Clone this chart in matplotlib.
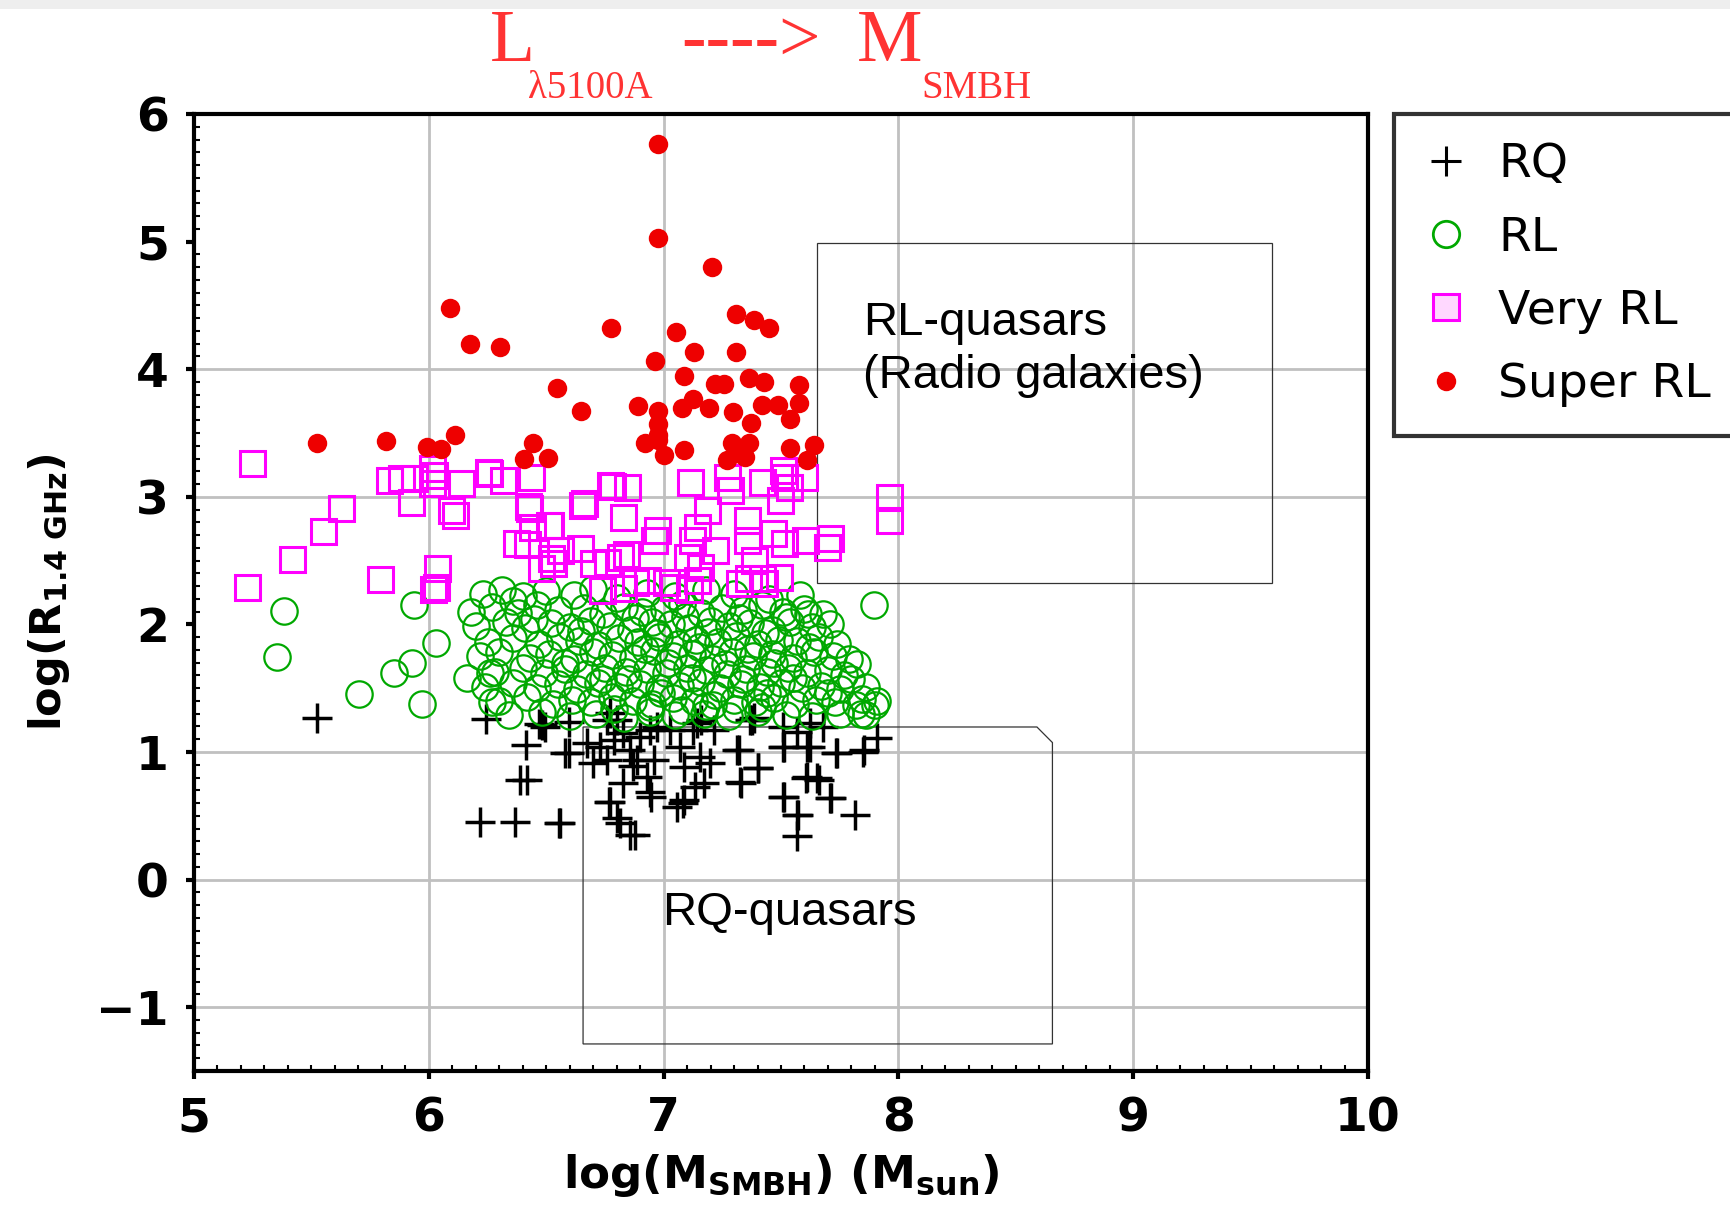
import matplotlib.pyplot as plt
from matplotlib.lines import Line2D
from matplotlib.patches import Rectangle, Polygon
from matplotlib.ticker import MultipleLocator

# --- data: log(M_SMBH) vs log(R_1.4GHz) ---
rq_x = [5.522, 6.245, 6.481, 6.416, 6.595, 6.390, 6.420, 6.220, 6.366, 6.554,
        6.766, 6.815, 6.856, 6.946, 7.084, 7.133, 7.312, 7.328, 7.401, 7.507,
        7.573, 7.507, 7.622, 7.736, 7.850, 7.907, 7.817, 7.606, 7.655, 7.712,
        7.507, 7.570, 7.377, 6.495, 6.595, 6.580, 6.559, 6.772, 6.673, 6.701,
        6.730, 6.787, 6.829, 6.858, 6.900, 6.886, 6.943, 6.957, 6.829, 6.929,
        6.943, 6.772, 6.801, 6.879, 7.071, 7.127, 7.156, 7.085, 7.199, 7.170,
        7.085, 7.056, 7.319, 7.404, 7.326, 7.213, 7.383, 7.511, 7.567, 7.567,
        7.511, 7.610, 7.610, 7.660, 7.710, 7.738, 7.852, 6.757, 6.800, 6.971,
        7.028, 7.141, 7.160, 7.369, 7.625, 7.681, 6.870, 6.760, 6.470]
rq_y = [1.264, 1.256, 1.211, 1.055, 0.990, 0.781, 0.781, 0.454, 0.454, 0.441,
        0.611, 0.441, 0.350, 0.650, 0.598, 0.728, 1.016, 0.754, 0.872, 0.650,
        0.507, 1.042, 1.042, 0.990, 1.003, 1.107, 0.507, 0.794, 0.794, 0.637,
        1.199, 1.160, 1.250, 1.199, 1.238, 0.990, 0.446, 1.304, 1.069, 0.911,
        1.042, 1.094, 1.146, 1.016, 1.120, 0.937, 1.172, 0.937, 0.754, 0.807,
        0.690, 0.611, 0.480, 0.350, 1.042, 1.172, 0.963, 0.885, 0.911, 0.754,
        0.624, 0.572, 1.016, 0.872, 0.768, 1.172, 1.264, 0.650, 0.507, 0.340,
        1.042, 1.042, 0.807, 0.781, 0.637, 0.990, 1.016, 1.251, 1.250, 1.199,
        1.172, 1.225, 1.250, 1.251, 1.225, 1.199, 0.890, 0.940, 1.220]

rl_x = [5.383, 5.352, 5.703, 5.973, 5.937, 6.030, 5.930, 5.852, 6.162, 6.270,
        7.897, 7.822, 7.900, 7.843, 7.615,
        6.23, 6.31, 6.40, 6.50, 6.62, 6.70, 6.80, 6.93, 7.05, 7.18, 7.30, 7.45, 7.58,
        6.18, 6.27, 6.38, 6.46, 6.55, 6.66, 6.74, 6.83, 6.91, 7.00, 7.08, 7.16,
        7.25, 7.34, 7.42, 7.51, 7.60, 7.68,
        6.20, 6.33, 6.41, 6.52, 6.60, 6.69, 6.77, 6.86, 6.95, 7.03, 7.11, 7.20,
        7.28, 7.37, 7.46, 7.54, 7.63, 7.71,
        6.25, 6.36, 6.47, 6.56, 6.64, 6.72, 6.81, 6.89, 6.98, 7.06, 7.14, 7.23,
        7.31, 7.40, 7.49, 7.57, 7.66, 7.74,
        6.22, 6.30, 6.43, 6.51, 6.62, 6.70, 6.78, 6.87, 6.96, 7.04, 7.12, 7.21,
        7.29, 7.38, 7.46, 7.55, 7.64, 7.72, 7.79,
        6.28, 6.40, 6.49, 6.58, 6.67, 6.75, 6.84, 6.93, 7.01, 7.10, 7.18, 7.27,
        7.35, 7.44, 7.53, 7.61, 7.70, 7.77,
        6.24, 6.36, 6.46, 6.55, 6.63, 6.72, 6.81, 6.90, 6.98, 7.07, 7.16, 7.24,
        7.33, 7.41, 7.50, 7.59, 7.67, 7.75, 7.86,
        6.30, 6.42, 6.53, 6.61, 6.69, 6.78, 6.87, 6.95, 7.04, 7.13, 7.21, 7.30,
        7.39, 7.47, 7.56, 7.65, 7.73, 7.82, 7.91,
        6.34, 6.48, 6.60, 6.71, 6.83, 6.94, 7.05, 7.17, 7.28, 7.40, 7.52, 7.63,
        7.75, 7.86,
        6.88, 6.97, 7.09, 7.19, 7.32, 7.43, 7.52, 6.92, 7.02, 7.15, 7.26, 7.36,
        7.47, 6.85, 6.99, 7.12, 7.22, 7.34, 7.44, 7.55, 6.79, 6.94, 7.08, 7.18,
        7.31, 7.42, 6.65, 6.74, 6.58, 6.45, 7.62, 7.70, 7.80, 7.84, 6.36, 6.26]
rl_y = [2.108, 1.747, 1.452, 1.373, 2.152, 1.852, 1.695, 1.617, 1.578, 1.390,
        2.155, 1.691, 1.367, 1.413, 2.083,
        2.24, 2.27, 2.22, 2.26, 2.23, 2.28, 2.21, 2.25, 2.22, 2.27, 2.24, 2.20, 2.23,
        2.10, 2.14, 2.09, 2.15, 2.11, 2.13, 2.08, 2.14, 2.10, 2.12, 2.16, 2.09,
        2.13, 2.11, 2.15, 2.10, 2.12, 2.08,
        1.99, 2.02, 1.97, 2.01, 1.98, 2.03, 1.99, 1.96, 2.02, 2.00, 1.97, 2.03,
        1.99, 2.01, 1.96, 2.02, 1.98, 2.00,
        1.86, 1.89, 1.85, 1.90, 1.87, 1.84, 1.89, 1.86, 1.90, 1.85, 1.88, 1.86,
        1.91, 1.85, 1.88, 1.87, 1.90, 1.85,
        1.75, 1.78, 1.74, 1.77, 1.73, 1.78, 1.76, 1.74, 1.79, 1.75, 1.77, 1.73,
        1.78, 1.75, 1.77, 1.74, 1.78, 1.75, 1.73,
        1.63, 1.66, 1.62, 1.65, 1.61, 1.66, 1.63, 1.65, 1.62, 1.66, 1.64, 1.61,
        1.65, 1.63, 1.66, 1.62, 1.64, 1.60,
        1.51, 1.54, 1.50, 1.53, 1.49, 1.54, 1.51, 1.53, 1.50, 1.52, 1.55, 1.50,
        1.53, 1.51, 1.54, 1.50, 1.52, 1.49, 1.51,
        1.40, 1.43, 1.38, 1.41, 1.39, 1.43, 1.40, 1.38, 1.42, 1.40, 1.37, 1.41,
        1.39, 1.42, 1.38, 1.41, 1.39, 1.37, 1.40,
        1.29, 1.31, 1.28, 1.30, 1.27, 1.31, 1.29, 1.30, 1.28, 1.31, 1.29, 1.28,
        1.30, 1.29,
        2.05, 1.93, 2.06, 1.94, 2.05, 1.93, 2.06, 1.81, 1.70, 1.82, 1.69, 1.81,
        1.70, 1.57, 1.46, 1.58, 1.45, 1.57, 1.46, 1.58, 1.34, 1.35, 1.33, 1.36,
        1.34, 1.35, 1.95, 1.57, 1.70, 2.04, 1.82, 1.46, 1.57, 1.30, 2.18, 1.62]

vrl_x = [5.248, 5.625, 5.550, 5.416, 5.227, 5.791, 5.883, 5.937, 6.015, 6.015,
         6.136, 5.923, 6.093, 6.112, 6.257, 6.314, 6.435, 6.427, 6.513, 6.370,
         6.476, 6.029, 6.033, 5.830, 6.659, 6.772, 6.844, 6.829, 6.517, 6.645,
         6.701, 6.815, 6.737, 6.829, 6.957, 6.971, 6.929, 7.042, 7.113, 7.184,
         7.141, 7.120, 7.098, 7.156, 7.141, 7.220, 7.269, 7.284, 7.355, 7.355,
         7.383, 7.319, 7.426, 7.419, 7.511, 7.532, 7.596, 7.497, 7.468, 7.511,
         7.490, 7.603, 7.710, 7.696, 7.958, 7.958, 6.531, 6.559, 6.023, 6.251,
         6.779, 7.507, 6.651, 6.423, 6.440, 6.420, 6.520, 6.760, 6.840, 6.880,
         7.010, 7.110, 7.360, 7.420, 6.020]
vrl_y = [3.267, 2.910, 2.732, 2.513, 2.291, 2.353, 3.145, 3.145, 3.223, 3.106,
         3.106, 2.962, 2.897, 2.857, 3.189, 3.132, 3.158, 2.910, 2.779, 2.636,
         2.440, 2.296, 2.440, 3.132, 2.949, 3.093, 3.080, 2.845, 2.779, 2.596,
         2.479, 2.531, 2.270, 2.283, 2.660, 2.740, 2.348, 2.296, 3.118, 2.897,
         2.766, 2.660, 2.531, 2.452, 2.348, 2.583, 3.158, 3.053, 2.818, 2.660,
         2.505, 2.322, 2.322, 3.118, 3.158, 3.080, 3.158, 2.975, 2.714, 2.636,
         2.374, 2.660, 2.675, 2.608, 3.001, 2.818, 2.479, 2.583, 3.169, 3.196,
         3.087, 3.209, 2.939, 2.926, 2.760, 2.630, 2.520, 2.490, 2.550, 2.330,
         2.330, 2.280, 2.360, 2.360, 2.280]

srl_x = [6.092, 6.176, 6.302, 6.544, 6.112, 5.524, 5.817, 5.994, 6.051, 6.444,
         6.406, 6.508, 6.976, 6.976, 7.205, 6.777, 7.307, 7.383, 7.450, 7.052,
         7.130, 7.307, 6.964, 7.085, 7.220, 7.258, 7.362, 7.429, 7.578, 6.647,
         6.889, 6.976, 7.077, 7.127, 7.194, 7.294, 7.421, 7.489, 7.575, 7.539,
         6.976, 7.373, 6.976, 6.922, 6.976, 7.000, 7.085, 7.293, 7.362, 7.539,
         7.639, 7.269, 7.347, 7.609, 7.310]
srl_y = [4.477, 4.198, 4.176, 3.850, 3.484, 3.419, 3.440, 3.393, 3.372, 3.424,
         3.294, 3.302, 5.765, 5.026, 4.803, 4.320, 4.430, 4.386, 4.320, 4.294,
         4.132, 4.132, 4.067, 3.949, 3.882, 3.882, 3.929, 3.902, 3.876, 3.672,
         3.714, 3.672, 3.694, 3.764, 3.694, 3.662, 3.720, 3.720, 3.733, 3.610,
         3.571, 3.576, 3.484, 3.419, 3.445, 3.328, 3.367, 3.419, 3.419, 3.380,
         3.406, 3.288, 3.314, 3.288, 3.340]

x_ticks = [5, 6, 7, 8, 9, 10]
y_ticks = [-1, 0, 1, 2, 3, 4, 5, 6]
y_grid = [-1, 0, 1, 3, 4]
x_grid = [6, 7, 8, 9]

W, H = 1731, 1214
fig = plt.figure(figsize=(W / 100, H / 100), dpi=100)
fig.patches.append(Rectangle((0, 1 - 9 / H), 1, 9 / H, transform=fig.transFigure,
                             facecolor='#eeeeee', edgecolor='none'))

ax = fig.add_axes([194 / W, 1 - 1071 / H, 1174 / W, 957 / H])
ax.set_xlim(5, 10)
ax.set_ylim(-1.5, 6)

for g in y_grid:
    ax.axhline(g, color='#c0c0c0', lw=2, zorder=0)
for g in x_grid:
    ax.axvline(g, color='#c0c0c0', lw=2, zorder=0)

ax.plot(rq_x, rq_y, ls='none', marker='+', ms=21, mew=2.5, color='black', label='RQ')
ax.plot(rl_x, rl_y, ls='none', marker='o', ms=19, mew=1.6, mfc='none',
        mec='#00a800', label='RL')
ax.plot(vrl_x, vrl_y, ls='none', marker='s', ms=18, mew=2.2, mfc='none',
        mec='#ff00ff', label='Very RL')
ax.plot(srl_x, srl_y, ls='none', marker='o', ms=14, mew=0, color='#ee0000',
        label='Super RL')

# region boxes
ax.add_patch(Rectangle((7.655, 2.321), 9.591 - 7.655, 4.989 - 2.321, fill=False,
                       edgecolor='#333333', lw=0.9, zorder=1))
ax.add_patch(Polygon([(6.657, -1.288), (6.657, 1.196), (8.590, 1.196),
                      (8.656, 1.074), (8.656, -1.288)], closed=True, fill=False,
                     edgecolor='#333333', lw=0.9, zorder=1))
sans = 'Liberation Sans'
ax.text(7.850, 4.268, 'RL-quasars', fontsize=34, family=sans, va='baseline')
ax.text(7.850, 3.853, '(Radio galaxies)', fontsize=34, family=sans, va='baseline')
ax.text(6.994, -0.356, 'RQ-quasars', fontsize=34, family=sans, va='baseline')

# axes frame and ticks
for side in ax.spines.values():
    side.set_linewidth(3)
ax.set_xticks(x_ticks)
ax.set_yticks(y_ticks)
ax.xaxis.set_minor_locator(MultipleLocator(0.1))
ax.yaxis.set_minor_locator(MultipleLocator(0.1))
ax.tick_params(which='major', direction='out', length=6, width=3, pad=12,
               labelsize=34, top=False, right=False)
ax.tick_params(which='minor', direction='in', length=4.5, width=1.5,
               top=False, right=False)
for lab in ax.get_xticklabels() + ax.get_yticklabels():
    lab.set_fontweight('bold')

ax.set_xlabel(r'log(M$_{\mathbf{SMBH}}$) (M$_{\mathbf{sun}}$)', fontsize=32.5,
              fontweight='bold')
ax.set_ylabel(r'log(R$_{\mathbf{1.4\ GHz}}$)', fontsize=31, fontweight='bold')
ax.xaxis.set_label_coords(0.5, -0.085)
ax.yaxis.set_label_coords(-0.104, 0.5)

# legend
handles = [
    Line2D([], [], ls='none', marker='+', ms=21, mew=2.2, color='black'),
    Line2D([], [], ls='none', marker='o', ms=19, mew=2, mfc='none', mec='#00a800'),
    Line2D([], [], ls='none', marker='s', ms=19, mew=2.2, mfc='#ffd8ff', mec='#ff00ff'),
    Line2D([], [], ls='none', marker='o', ms=14, mew=0, color='#ee0000'),
]
leg = fig.legend(handles, ['RQ', 'RL', 'Very RL', 'Super RL'], loc='upper left',
                 bbox_to_anchor=(1394 / W, 1 - 114 / H), borderaxespad=0,
                 fontsize=34, frameon=True, fancybox=False, borderpad=0.6,
                 handlelength=1.0, handletextpad=0.6, labelspacing=0.6)
leg.get_frame().set_edgecolor('black')
leg.get_frame().set_linewidth(3)

# heading
red = '#ff3333'
serif = 'Liberation Serif'
fig.text(490 / W, 1 - 61 / H, 'L', fontsize=53, color=red, family=serif, va='baseline')
fig.text(528 / W, 1 - 98 / H, 'λ5100A', fontsize=28, color=red, family=serif,
         va='baseline')
fig.text(681 / W, 1 - 61 / H, '---->', fontsize=53, color=red, family=serif,
         va='baseline')
fig.text(857 / W, 1 - 61 / H, 'M', fontsize=53, color=red, family=serif, va='baseline')
fig.text(921 / W, 1 - 98 / H, 'SMBH', fontsize=28, color=red, family=serif,
         va='baseline')

fig.savefig('out.png', dpi=100)
